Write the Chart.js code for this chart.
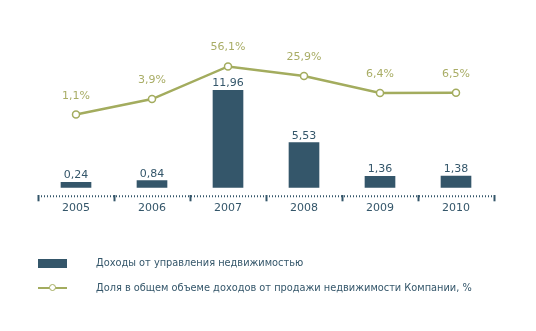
<!DOCTYPE html>
<html lang="ru">
<head>
<meta charset="utf-8">
<script src="https://cdn.jsdelivr.net/npm/chart.js@4.4.1/dist/chart.umd.min.js"></script>
<style>
  html, body { margin: 0; padding: 0; background: #fff; }
  .wrap { position: relative; width: 536px; height: 331px; font-family: "DejaVu Sans", Verdana, sans-serif; }
  #grafico { position: absolute; left: 0; top: 0; }
  .legenda { position: absolute; left: 38px; font-size: 9.8px; color: #34566a; line-height: 12px; }
  .legenda .amostra { position: absolute; left: 0; width: 29px; }
  .legenda .texto { position: absolute; left: 58px; white-space: nowrap; top: -6px; }
  .barra { height: 9px; top: -4px; background: #34566a; }
  .linha { height: 2px; top: -1px; background: #a3ac5e; }
  .linha::after { content: ""; position: absolute; left: 11px; top: -3px; width: 5px; height: 5px; border: 1.5px solid #a3ac5e; border-radius: 50%; background: #fff; box-sizing: content-box; }
</style>
</head>
<body>
<div class="wrap">
  <canvas id="grafico" width="536" height="331"></canvas>
  <div class="legenda" style="top:263px"><span class="amostra barra"></span><span class="texto">Доходы от управления недвижимостью</span></div>
  <div class="legenda" style="top:288px"><span class="amostra linha"></span><span class="texto">Доля в общем объеме доходов от продажи недвижимости Компании, %</span></div>
</div>
<script>
// dados do gráfico
const anos = ['2005', '2006', '2007', '2008', '2009', '2010'];
const receitaGestao = [0.24, 0.84, 11.96, 5.53, 1.36, 1.38];
const participacao = [1.1, 3.9, 56.1, 25.9, 6.4, 6.5];

const corBarra = '#34566a';
const corLinha = '#a3ac5e';
const corTextoLinha = '#a9ad66';

// linha pontilhada do eixo X (o border do Chart.js não aceita tracejado)
const eixoPontilhado = {
    id: 'eixoPontilhado',
    afterDraw(chart) {
        const { ctx: c, chartArea: a } = chart;
        c.save();
        c.strokeStyle = corBarra;
        c.lineWidth = 2;
        c.setLineDash([1, 2]);
        c.beginPath();
        c.moveTo(a.left, a.bottom + 1);
        c.lineTo(a.right, a.bottom + 1);
        c.stroke();
        c.restore();
    }
};

// rótulos de valor sobre barras e pontos
const rotulos = {
    id: 'rotulos',
    afterDatasetsDraw(chart) {
        const c = chart.ctx;
        c.save();
        c.font = '11px "DejaVu Sans", Verdana, sans-serif';
        c.textAlign = 'center';
        c.textBaseline = 'alphabetic';

        chart.getDatasetMeta(0).data.forEach((el, i) => {
            c.fillStyle = corBarra;
            c.fillText(receitaGestao[i].toFixed(2).replace('.', ','), el.x, el.y - 4);
        });
        chart.getDatasetMeta(1).data.forEach((el, i) => {
            c.fillStyle = corTextoLinha;
            c.fillText(participacao[i].toFixed(1).replace('.', ',') + '%', el.x, el.y - 16);
        });
        c.restore();
    }
};

new Chart(document.getElementById('grafico'), {
    data: {
        labels: anos,
        datasets: [
            {
                type: 'bar',
                data: receitaGestao,
                backgroundColor: corBarra,
                barThickness: 30,
                minBarLength: 5,
                yAxisID: 'y',
                order: 2
            },
            {
                type: 'line',
                data: participacao,
                borderColor: corLinha,
                borderWidth: 2.5,
                pointRadius: 3.5,
                pointBorderWidth: 1.5,
                pointBackgroundColor: '#fff',
                pointBorderColor: corLinha,
                tension: 0,
                yAxisID: 'y2',
                order: 1
            }
        ]
    },
    options: {
        responsive: false,
        animation: false,
        layout: { padding: { left: 38, right: 42, top: 0, bottom: 116.5 } },
        plugins: { legend: { display: false }, tooltip: { enabled: false } },
        scales: {
            x: {
                offset: true,
                grid: {
                    offset: true,
                    drawOnChartArea: false,
                    drawTicks: true,
                    tickLength: 6,
                    tickWidth: 2,
                    tickColor: corBarra
                },
                border: { display: false },
                ticks: {
                    color: corBarra,
                    padding: 0,
                    font: { family: '"DejaVu Sans", Verdana, sans-serif', size: 11 }
                }
            },
            y: { display: false, min: -0.976, max: 22.42 },
            y2: { type: 'logarithmic', display: false, min: 0.0015, max: 8180 }
        }
    },
    plugins: [rotulos, eixoPontilhado]
});
</script>
</body>
</html>
